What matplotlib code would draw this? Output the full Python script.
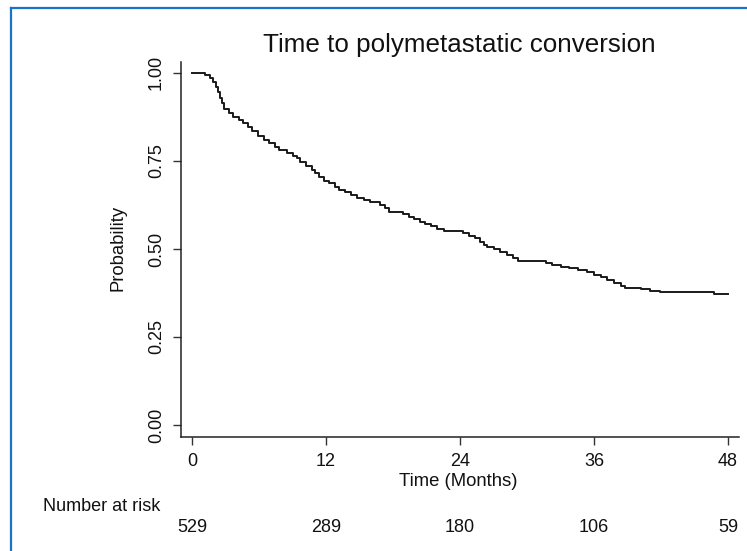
import matplotlib
matplotlib.use("Agg")
import matplotlib.pyplot as plt
import matplotlib.transforms as mtransforms
from matplotlib.lines import Line2D

plt.rcParams["font.family"] = ["Liberation Sans", "DejaVu Sans"]

# Kaplan-Meier steps (months, probability after the step)
TIMES = [0, 1.2, 1.6, 1.9, 2.1, 2.3, 2.5, 2.7, 2.9, 3.3, 3.7, 4.2, 4.6, 5.0,
         5.4, 5.9, 6.4, 6.9, 7.4, 7.8, 8.5, 9.0, 9.4, 9.7, 10.2, 10.7, 11.0,
         11.4, 11.8, 12.3, 12.8, 13.2, 13.7, 14.2, 14.8, 15.4, 15.9, 16.8,
         17.3, 17.6, 18.9, 19.4, 19.9, 20.4, 20.9, 21.4, 21.9, 22.6, 24.3,
         24.8, 25.3, 25.8, 26.1, 26.4, 27.0, 27.6, 28.2, 28.7, 29.2, 31.7,
         32.2, 33.0, 33.8, 34.6, 35.4, 36.0, 36.6, 37.2, 37.8, 38.4, 38.8,
         40.2, 41.0, 41.9, 46.7, 48.0]
SURV = [1.000, 0.994, 0.985, 0.975, 0.960, 0.945, 0.930, 0.915, 0.897, 0.885,
        0.875, 0.866, 0.858, 0.845, 0.834, 0.822, 0.810, 0.800, 0.789, 0.780,
        0.773, 0.765, 0.757, 0.746, 0.735, 0.725, 0.715, 0.703, 0.694, 0.686,
        0.675, 0.668, 0.661, 0.654, 0.646, 0.640, 0.634, 0.626, 0.617, 0.605,
        0.598, 0.591, 0.585, 0.578, 0.571, 0.565, 0.558, 0.551, 0.544, 0.537,
        0.530, 0.521, 0.512, 0.505, 0.499, 0.490, 0.482, 0.475, 0.467, 0.460,
        0.455, 0.450, 0.445, 0.440, 0.434, 0.427, 0.419, 0.411, 0.402, 0.394,
        0.390, 0.386, 0.382, 0.378, 0.372, 0.372]

X_TICKS = [0, 12, 24, 36, 48]
Y_TICKS = [0.00, 0.25, 0.50, 0.75, 1.00]
AT_RISK = [529, 289, 180, 106, 59]

W, H = 747, 551
fig = plt.figure(figsize=(W / 100, H / 100), dpi=100)
fig.patch.set_facecolor("white")

# axes box in pixel terms
left, right, top, bottom = 181, 739, 62, 437
ax = fig.add_axes([left / W, 1 - bottom / H, (right - left) / W, (bottom - top) / H])

ax.plot(TIMES, SURV, drawstyle="steps-post", color="#1a1a1a", linewidth=1.4)

ax.set_xlim(-0.99, 48.98)
ax.set_ylim(-0.034, 1.031)
ax.set_xticks(X_TICKS)
ax.set_yticks(Y_TICKS)
ax.set_yticklabels([f"{v:.2f}" for v in Y_TICKS], rotation=90, va="center")
ax.tick_params(axis="both", direction="out", length=5.8, width=1.0,
               color="#333333", labelsize=13, pad=5.8, labelcolor="#111111")

for s in ["top", "right"]:
    ax.spines[s].set_visible(False)
for s in ["left", "bottom"]:
    ax.spines[s].set_linewidth(1.1)
    ax.spines[s].set_color("#222222")

# texts
fig.text(459 / W, 1 - 52 / H, "Time to polymetastatic conversion",
         ha="center", va="baseline", fontsize=18.7, color="#111111")
fig.text(118 / W, 1 - 248 / H, "Probability", rotation=90,
         ha="center", va="center", fontsize=13.3, color="#111111")
fig.text(458 / W, 1 - 486 / H, "Time (Months)",
         ha="center", va="baseline", fontsize=13.3, color="#111111")
fig.text(43 / W, 1 - 511 / H, "Number at risk",
         ha="left", va="baseline", fontsize=13, color="#111111")

trans = mtransforms.blended_transform_factory(ax.transData, fig.transFigure)
for t, n in zip(X_TICKS, AT_RISK):
    ax.text(t, 1 - 532 / H, str(n), transform=trans, ha="center",
            va="baseline", fontsize=13, color="#111111", clip_on=False)

# blue frame (left and top edges visible)
frame_col = "#1a72c9"
fig.add_artist(Line2D([11 / W, 11 / W], [0, 1 - 8 / H], color=frame_col,
                      linewidth=1.6, transform=fig.transFigure))
fig.add_artist(Line2D([11 / W, 1], [1 - 8 / H, 1 - 8 / H], color=frame_col,
                      linewidth=1.6, transform=fig.transFigure))

fig.savefig("out.png", dpi=100)
